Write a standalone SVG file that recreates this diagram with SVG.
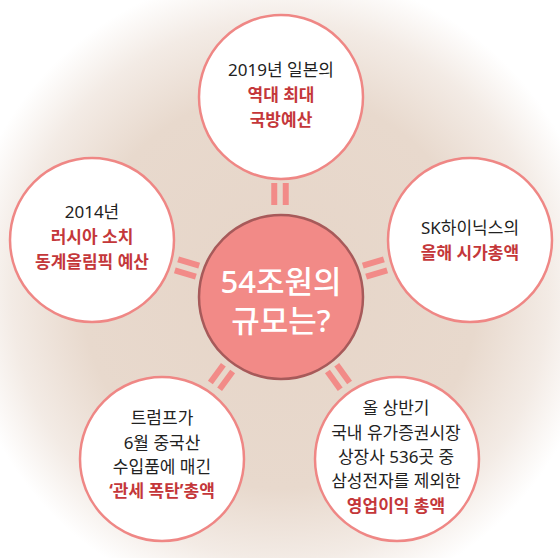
<svg xmlns="http://www.w3.org/2000/svg" width="560" height="558" viewBox="0 0 560 558">
  <defs>
    <radialGradient id="bg" gradientUnits="userSpaceOnUse" cx="280" cy="290" r="320">
      <stop offset="0" stop-color="#e6d5c8"/>
      <stop offset="0.62" stop-color="#e8d9cd"/>
      <stop offset="0.84" stop-color="#f3ebe5"/>
      <stop offset="1" stop-color="#ffffff"/>
    </radialGradient>
    <style>
      .node { fill: #ffffff; stroke: #ef8785; stroke-width: 2.5; }
      .hub { fill: #f28a87; stroke: #a75a5a; stroke-width: 2.5; }
      .bar { stroke: #f28b88; stroke-width: 6; stroke-linecap: butt; fill: none; }
      text { font-family: "Noto Sans", "Noto Sans CJK KR", sans-serif; text-anchor: middle; }
      .t { font-size: 17px; fill: #222222; }
      .r { font-size: 17px; fill: #c4373a; font-weight: bold; }
      .c { font-size: 31px; fill: #ffffff; font-weight: 500; }
    </style>
  </defs>
  <rect x="0" y="0" width="560" height="558" fill="url(#bg)"/>

  <g id="connectors">
    <g transform="translate(280,194) rotate(90)">
      <line class="bar" x1="-11" y1="-5.75" x2="11" y2="-5.75"/>
      <line class="bar" x1="-11" y1="5.75" x2="11" y2="5.75"/>
    </g>
    <g transform="translate(187,268) rotate(16.8)">
      <line class="bar" x1="-11" y1="-5.75" x2="11" y2="-5.75"/>
      <line class="bar" x1="-11" y1="5.75" x2="11" y2="5.75"/>
    </g>
    <g transform="translate(375,268) rotate(-16.8)">
      <line class="bar" x1="-11" y1="-5.75" x2="11" y2="-5.75"/>
      <line class="bar" x1="-11" y1="5.75" x2="11" y2="5.75"/>
    </g>
    <g transform="translate(221.5,377) rotate(-53.7)">
      <line class="bar" x1="-11" y1="-5.75" x2="11" y2="-5.75"/>
      <line class="bar" x1="-11" y1="5.75" x2="11" y2="5.75"/>
    </g>
    <g transform="translate(338.5,377) rotate(54.4)">
      <line class="bar" x1="-11" y1="-5.75" x2="11" y2="-5.75"/>
      <line class="bar" x1="-11" y1="5.75" x2="11" y2="5.75"/>
    </g>
  </g>

  <g id="hub">
    <circle class="hub" cx="281" cy="297" r="82"/>
    <text class="c" x="281" y="293">54조원의</text>
    <text class="c" x="281" y="332">규모는?</text>
  </g>

  <g id="node-top">
    <circle class="node" cx="281" cy="97" r="82"/>
    <text class="t" x="281" y="76">2019년 일본의</text>
    <text class="r" x="281" y="101">역대 최대</text>
    <text class="r" x="281" y="126">국방예산</text>
  </g>

  <g id="node-left">
    <circle class="node" cx="92" cy="240" r="82"/>
    <text class="t" x="92" y="218">2014년</text>
    <text class="r" x="92" y="243">러시아 소치</text>
    <text class="r" x="92" y="268">동계올림픽 예산</text>
  </g>

  <g id="node-right">
    <circle class="node" cx="470" cy="240" r="82"/>
    <text class="t" x="470" y="234">SK하이닉스의</text>
    <text class="r" x="470" y="259">올해 시가총액</text>
  </g>

  <g id="node-bottom-left">
    <circle class="node" cx="162" cy="459" r="82"/>
    <text class="t" x="162" y="424">트럼프가</text>
    <text class="t" x="162" y="449">6월 중국산</text>
    <text class="t" x="162" y="473">수입품에 매긴</text>
    <text class="r" x="162" y="497">‘관세 폭탄’총액</text>
  </g>

  <g id="node-bottom-right">
    <circle class="node" cx="397" cy="459" r="82"/>
    <text class="t" x="396" y="414">올 상반기</text>
    <text class="t" x="396" y="439">국내 유가증권시장</text>
    <text class="t" x="396" y="463">상장사 536곳 중</text>
    <text class="t" x="396" y="487">삼성전자를 제외한</text>
    <text class="r" x="396" y="512">영업이익 총액</text>
  </g>
</svg>
